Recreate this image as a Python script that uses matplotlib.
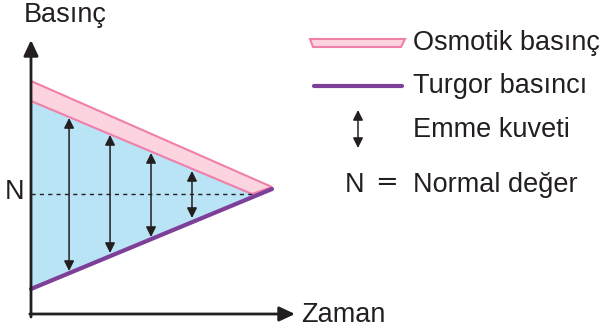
import matplotlib
matplotlib.use("Agg")
import matplotlib.pyplot as plt
from matplotlib.patches import Polygon

plt.rcParams["font.family"] = ["Liberation Sans", "DejaVu Sans"]

# ── 値（時間 0..10、basınç 任意単位） ──
time_span = [0.0, 10.0]
osmotik_ust = [23.3, 12.7]          # pembe bandın üst kenarı
osmotik_alt_t = [0.0, 9.17]
osmotik_alt = [21.3, 12.0]          # pembe bandın alt kenarı
turgor = [2.5, 12.5]
normal_deger = 12.0
emme_t = [1.58, 3.28, 4.98, 6.68]
emme_ust = [19.6, 17.9, 16.1, 14.3]
emme_alt = [4.3, 6.1, 7.7, 9.6]

INK = "#231f20"
PEMBE = "#f07fa9"
PEMBE_DOLGU = "#fbd4df"
MOR = "#7d3f98"
MAVI = "#b9e4f6"

fig = plt.figure(figsize=(6.03, 3.31), dpi=100)
fig.patch.set_facecolor("white")

# veri ekseni: tüm figür, orijin (31, 314) piksel
ax = fig.add_axes([0, 0, 1, 1])
ax.set_xlim(-31 / 24.1, (603 - 31) / 24.1)
ax.set_ylim(-(331 - 314) / 10, 314 / 10)
ax.axis("off")

# yerleşim ekseni: piksel koordinatları (yazılar, lejant)
lay = fig.add_axes([0, 0, 1, 1], zorder=5)
lay.set_xlim(0, 603)
lay.set_ylim(331, 0)
lay.axis("off")
lay.patch.set_alpha(0)

# mavi alan (pembe alt kenar ile turgor arası)
mavi = [(osmotik_alt_t[0], osmotik_alt[0]), (osmotik_alt_t[1], osmotik_alt[1]),
        (time_span[1], turgor[1]), (time_span[0], turgor[0])]
ax.add_patch(Polygon(mavi, closed=True, facecolor=MAVI, edgecolor="none", zorder=1))

# osmotik basınç bandı
band = [(time_span[0], osmotik_ust[0]), (time_span[1], osmotik_ust[1]),
        (osmotik_alt_t[1], osmotik_alt[1]), (osmotik_alt_t[0], osmotik_alt[0])]
ax.add_patch(Polygon(band, closed=True, facecolor=PEMBE_DOLGU, edgecolor=PEMBE,
                     linewidth=1.5, joinstyle="miter", zorder=2))

# N çizgisi
ax.plot([0, osmotik_alt_t[1]], [normal_deger, normal_deger], color=INK,
        linewidth=1.0, linestyle=(0, (3, 3)), zorder=3)

# turgor basıncı
ax.plot(time_span, turgor, color=MOR, linewidth=3.0, solid_capstyle="round", zorder=4)

# emme kuveti okları
for t, u, a in zip(emme_t, emme_ust, emme_alt):
    ax.annotate("", xy=(t, u), xytext=(t, a),
                arrowprops=dict(arrowstyle="<|-|>,head_length=0.6,head_width=0.3",
                                mutation_scale=10, color=INK, lw=1.1,
                                shrinkA=0, shrinkB=0), zorder=5)

# eksenler
ax.annotate("", xy=(0, (314 - 40) / 10), xytext=(0, -0.3),
            arrowprops=dict(arrowstyle="-|>,head_length=0.47,head_width=0.22",
                            mutation_scale=20, color=INK, lw=2.0,
                            shrinkA=0, shrinkB=0), zorder=6)
ax.annotate("", xy=((295 - 31) / 24.1, 0), xytext=(-0.05, 0),
            arrowprops=dict(arrowstyle="-|>,head_length=0.47,head_width=0.22",
                            mutation_scale=20, color=INK, lw=2.0,
                            shrinkA=0, shrinkB=0), zorder=6)

FS = 19.5
lay.text(24, 22, "Basınç", fontsize=FS, color=INK, ha="left", va="baseline")
lay.text(301, 322, "Zaman", fontsize=FS, color=INK, ha="left", va="baseline")
lay.text(15, 199, "N", fontsize=FS, color=INK, ha="center", va="baseline")

# lejant
lay.add_patch(Polygon([(310, 39), (405, 39), (401, 47), (313, 47)], closed=True,
                      facecolor=PEMBE_DOLGU, edgecolor=PEMBE, linewidth=1.5))
lay.plot([314, 402], [86, 86], color=MOR, linewidth=3.0, solid_capstyle="round")
lay.annotate("", xy=(358, 110), xytext=(358, 148),
             arrowprops=dict(arrowstyle="<|-|>,head_length=0.6,head_width=0.3",
                             mutation_scale=10, color=INK, lw=1.1,
                             shrinkA=0, shrinkB=0))

lay.text(413, 50, "Osmotik basınç", fontsize=FS, color=INK, ha="left", va="baseline")
lay.text(413, 93, "Turgor basıncı", fontsize=FS, color=INK, ha="left", va="baseline")
lay.text(413, 137, "Emme kuveti", fontsize=FS, color=INK, ha="left", va="baseline")
lay.text(355, 192, "N", fontsize=FS, color=INK, ha="center", va="baseline")
lay.text(387, 183, "=", fontsize=FS, color=INK, ha="center", va="center",
         family="DejaVu Sans")
lay.text(413, 192, "Normal değer", fontsize=FS, color=INK, ha="left", va="baseline")

fig.savefig("out.png", dpi=100)
